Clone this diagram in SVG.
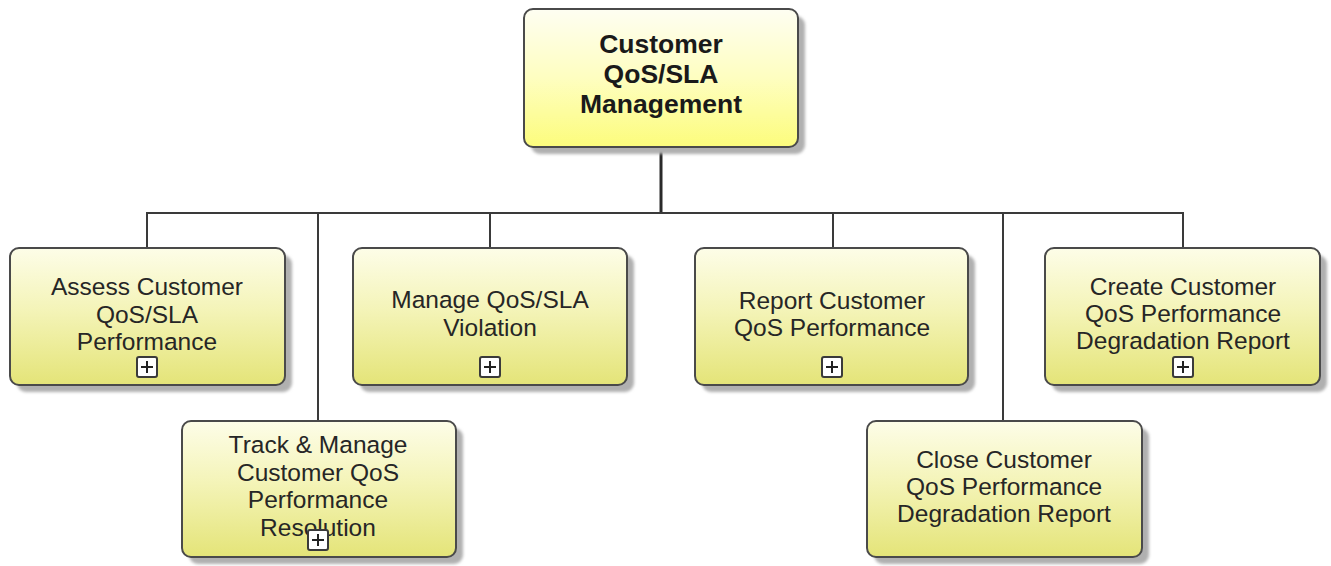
<svg xmlns="http://www.w3.org/2000/svg" width="1331" height="566" viewBox="0 0 1331 566">
  <defs>
    <linearGradient id="gChild" x1="0" y1="0" x2="0" y2="1">
      <stop offset="0" stop-color="#fdfde8"/>
      <stop offset="0.45" stop-color="#f4f4b8"/>
      <stop offset="1" stop-color="#e4e478"/>
    </linearGradient>
    <linearGradient id="gRoot" x1="0" y1="0" x2="0" y2="1">
      <stop offset="0" stop-color="#fefef2"/>
      <stop offset="0.5" stop-color="#fefec0"/>
      <stop offset="1" stop-color="#fcfc7c"/>
    </linearGradient>
    <filter id="soft" x="-5%" y="-5%" width="115%" height="120%">
      <feGaussianBlur stdDeviation="1.6"/>
    </filter>
    <!-- expand marker used on decomposed processes -->
    <g id="plus">
      <rect x="-10" y="-10" width="20" height="20" rx="2" fill="#ffffff" stroke="#3a3a3a" stroke-width="2"/>
      <path d="M-6 0H6M0 -6V6" stroke="#222" stroke-width="2"/>
    </g>
  </defs>
  <style>
    .shadow { fill: #b0b0b0; filter: url(#soft); }
    .box { fill: url(#gChild); stroke: #4a4a4a; stroke-width: 2; }
    .root { fill: url(#gRoot); stroke: #4a4a4a; stroke-width: 2; }
    .lbl { font-family: "Liberation Sans", Arial, sans-serif; font-size: 24.5px; fill: #262626; text-anchor: middle; }
    .ttl { font-family: "Liberation Sans", Arial, sans-serif; font-size: 26.5px; font-weight: bold; fill: #1a1a1a; text-anchor: middle; }
    .wire { fill: none; stroke: #3a3a3a; stroke-width: 2; }
    .trunk { fill: none; stroke: #2a2a2a; stroke-width: 3; }
  </style>

  <rect width="1331" height="566" fill="#ffffff"/>

  <!-- connectors -->
  <g id="connectors">
    <path class="trunk" d="M661 147V213"/>
    <path class="wire" d="M147 248V213H1183V248"/>
    <path class="wire" d="M318 213V421"/>
    <path class="wire" d="M490 213V248"/>
    <path class="wire" d="M833 213V248"/>
    <path class="wire" d="M1003 213V421"/>
  </g>

  <!-- root process -->
  <g id="n-root">
    <rect class="shadow" x="531" y="16" width="274" height="138" rx="9"/>
    <rect class="root" x="524" y="9" width="274" height="138" rx="9"/>
    <text class="ttl" x="661" y="53">Customer</text>
    <text class="ttl" x="661" y="83">QoS/SLA</text>
    <text class="ttl" x="661" y="113">Management</text>
  </g>

  <g id="n-assess">
    <rect class="shadow" x="17" y="255" width="275" height="137" rx="9"/>
    <rect class="box" x="10" y="248" width="275" height="137" rx="9"/>
    <text class="lbl" x="147" y="295">Assess Customer</text>
    <text class="lbl" x="147" y="322.5">QoS/SLA</text>
    <text class="lbl" x="147" y="350">Performance</text>
    <use href="#plus" x="147" y="367"/>
  </g>

  <g id="n-track">
    <rect class="shadow" x="189" y="428" width="274" height="136" rx="9"/>
    <rect class="box" x="182" y="421" width="274" height="136" rx="9"/>
    <text class="lbl" x="318" y="453">Track &amp; Manage</text>
    <text class="lbl" x="318" y="480.5">Customer QoS</text>
    <text class="lbl" x="318" y="508">Performance</text>
    <text class="lbl" x="318" y="535.5">Resolution</text>
    <use href="#plus" x="318" y="540"/>
  </g>

  <g id="n-manage">
    <rect class="shadow" x="360" y="255" width="274" height="137" rx="9"/>
    <rect class="box" x="353" y="248" width="274" height="137" rx="9"/>
    <text class="lbl" x="490" y="308">Manage QoS/SLA</text>
    <text class="lbl" x="490" y="336">Violation</text>
    <use href="#plus" x="490" y="367"/>
  </g>

  <g id="n-report">
    <rect class="shadow" x="702" y="255" width="273" height="137" rx="9"/>
    <rect class="box" x="695" y="248" width="273" height="137" rx="9"/>
    <text class="lbl" x="832" y="309">Report Customer</text>
    <text class="lbl" x="832" y="336">QoS Performance</text>
    <use href="#plus" x="832" y="367"/>
  </g>

  <g id="n-close">
    <rect class="shadow" x="874" y="428" width="275" height="136" rx="9"/>
    <rect class="box" x="867" y="421" width="275" height="136" rx="9"/>
    <text class="lbl" x="1004" y="468">Close Customer</text>
    <text class="lbl" x="1004" y="495">QoS Performance</text>
    <text class="lbl" x="1004" y="522">Degradation Report</text>
  </g>

  <g id="n-create">
    <rect class="shadow" x="1052" y="255" width="275" height="137" rx="9"/>
    <rect class="box" x="1045" y="248" width="275" height="137" rx="9"/>
    <text class="lbl" x="1183" y="295">Create Customer</text>
    <text class="lbl" x="1183" y="322">QoS Performance</text>
    <text class="lbl" x="1183" y="349">Degradation Report</text>
    <use href="#plus" x="1183" y="367"/>
  </g>
</svg>
